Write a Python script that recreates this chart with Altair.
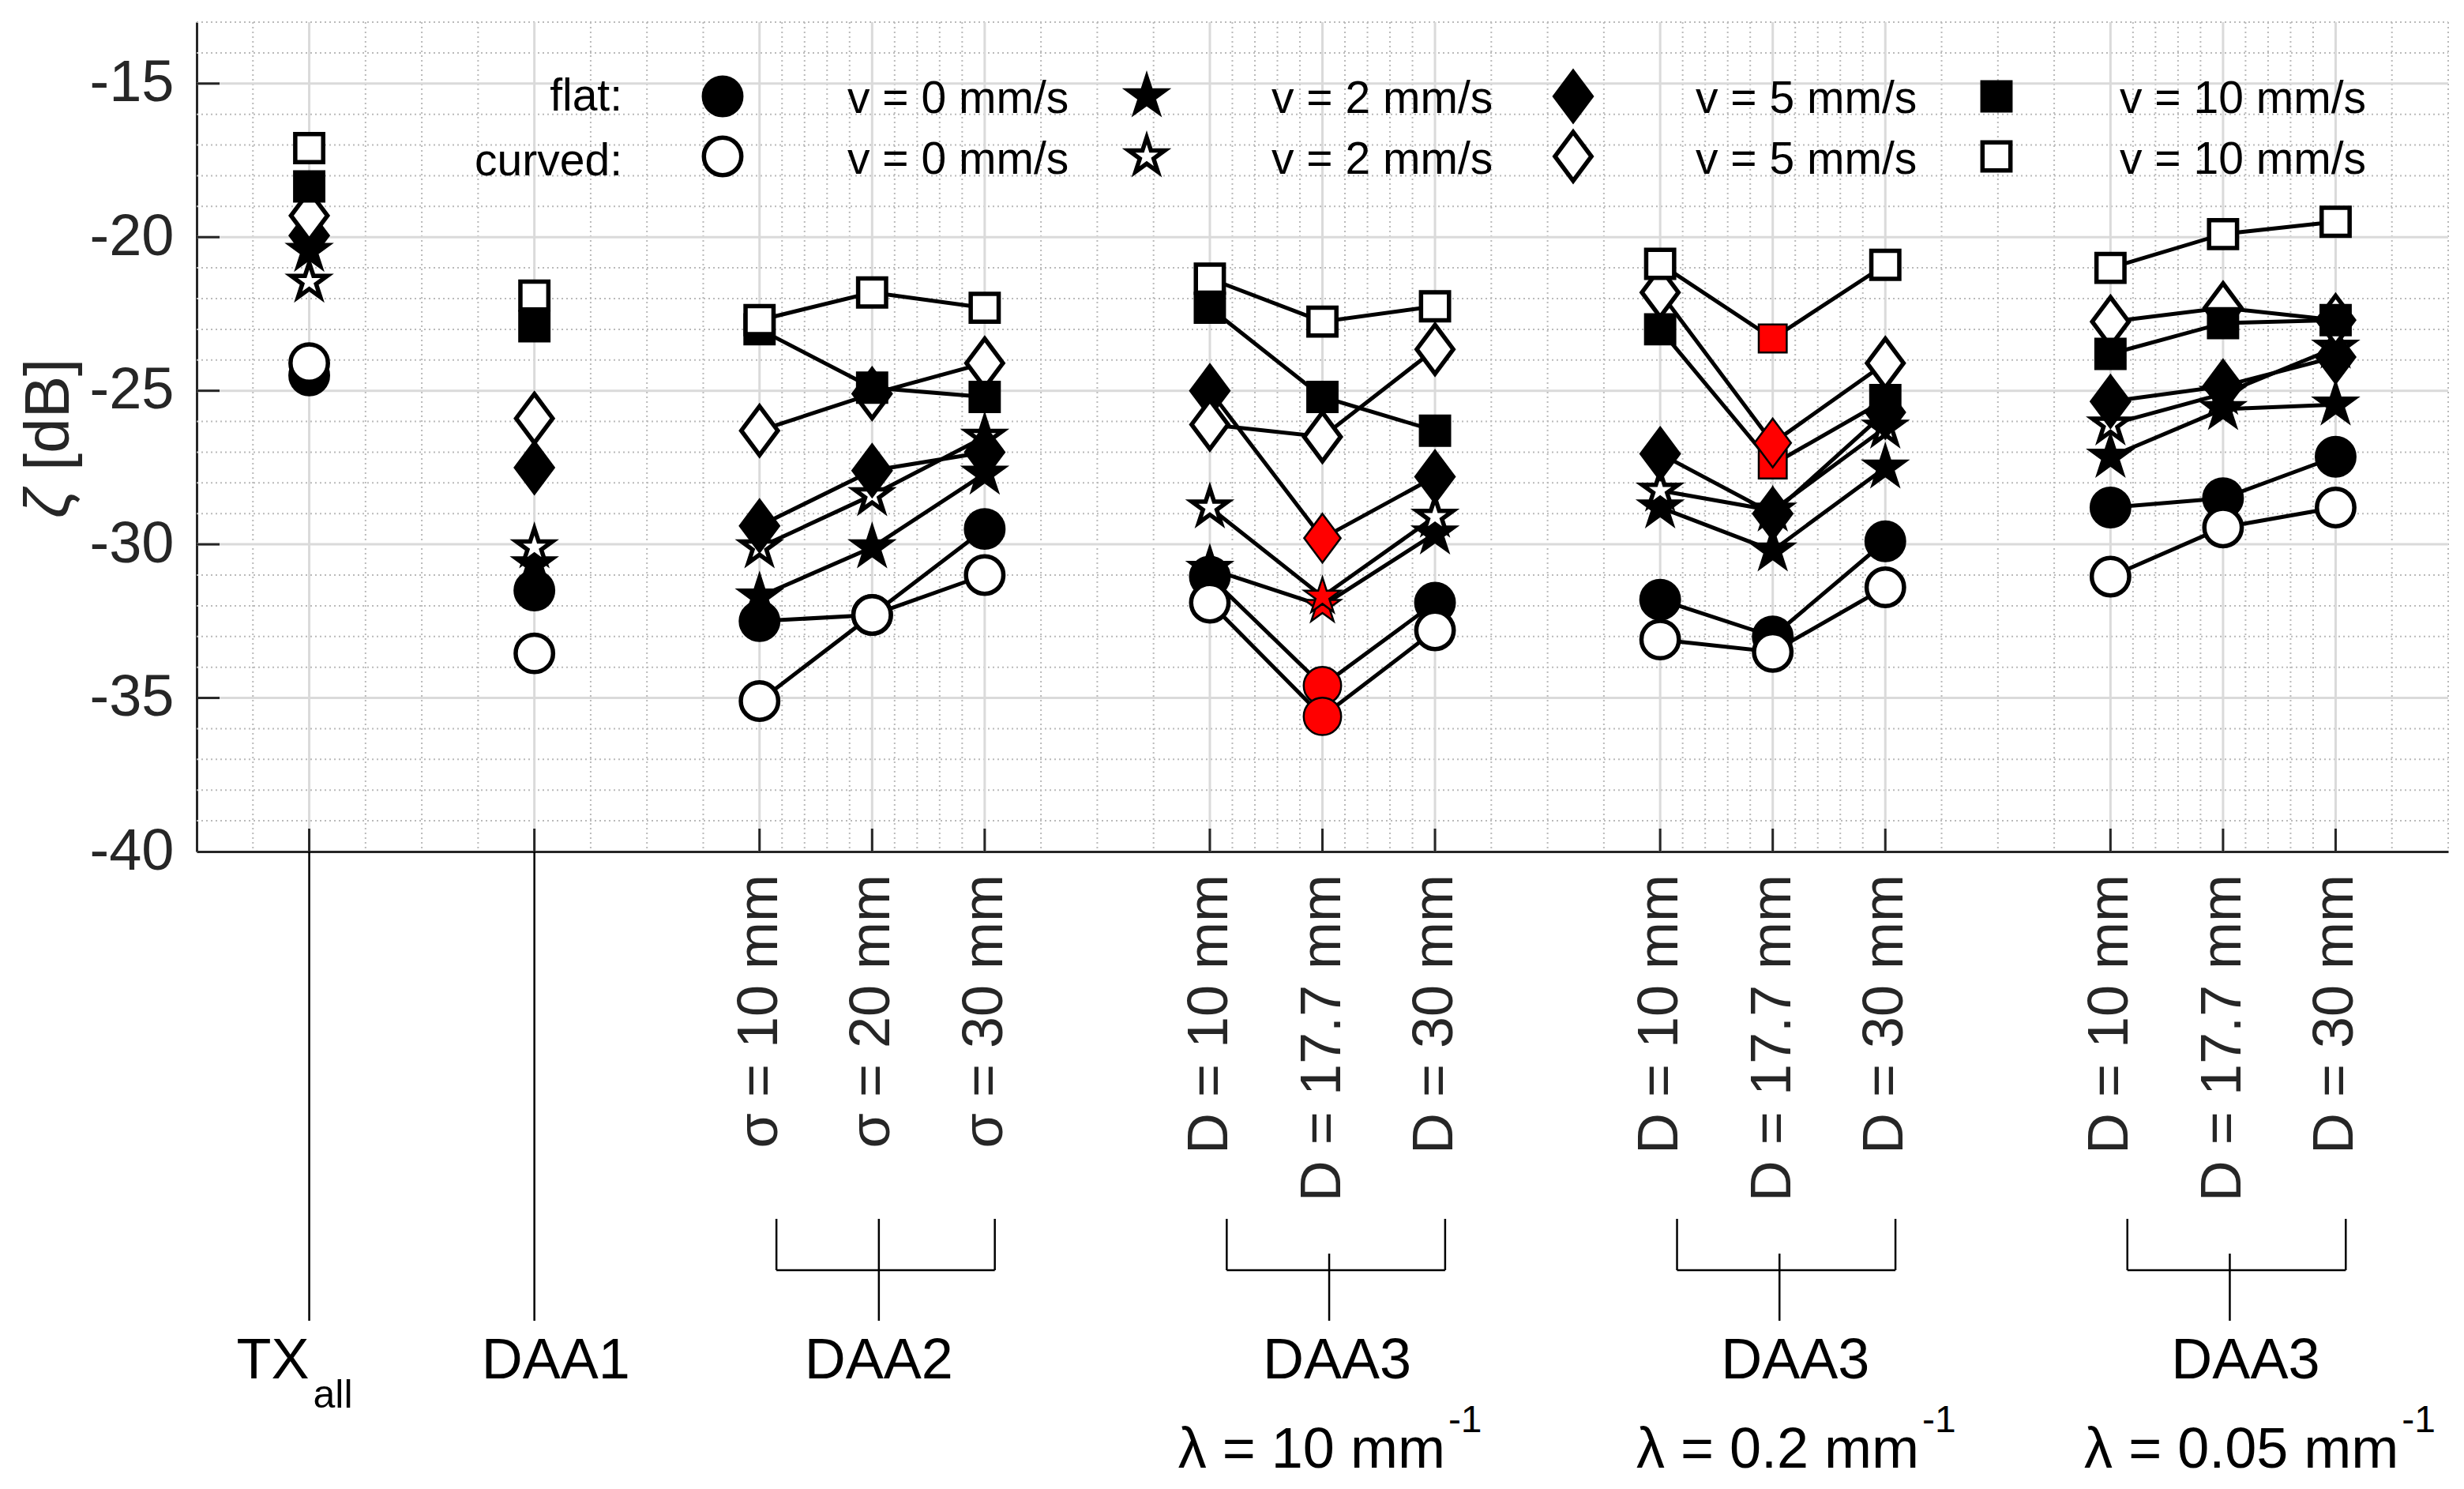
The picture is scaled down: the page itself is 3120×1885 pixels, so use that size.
import math
import altair as alt
import pandas as pd

# ---------------- data ----------------
positions = [1, 3, 5, 6, 7, 9, 10, 11, 13, 14, 15, 17, 18, 19]
group_of = ["TX", "DAA1", "DAA2", "DAA2", "DAA2", "DAA3a", "DAA3a", "DAA3a",
            "DAA3b", "DAA3b", "DAA3b", "DAA3c", "DAA3c", "DAA3c"]

flat_v0 = [-24.5, -31.5, -32.5, -32.3, -29.5, -31.05, -34.6, -31.9, -31.8, -33.0, -29.9, -28.8, -28.5, -27.15]
curved_v0 = [-24.1, -33.55, -35.1, -32.3, -31.0, -31.9, -35.6, -32.8, -33.1, -33.5, -31.4, -31.05, -29.45, -28.8]
flat_v2 = [-20.45, -30.65, -31.7, -30.1, -27.7, -30.8, -32.0, -29.65, -28.8, -30.2, -27.5, -27.15, -25.6, -25.45]
curved_v2 = [-21.45, -30.1, -30.1, -28.4, -26.5, -28.8, -31.7, -29.1, -28.25, -28.9, -26.2, -26.1, -25.1, -23.6]
flat_v5 = [-19.95, -27.5, -29.4, -27.6, -27.0, -25.0, -29.8, -27.8, -27.05, -29.0, -25.7, -25.35, -24.85, -23.9]
curved_v5 = [-19.3, -25.9, -26.3, -25.1, -24.1, -26.1, -26.5, -23.65, -21.8, -26.7, -24.1, -22.75, -22.3, -22.7]
flat_v10 = [-18.35, -22.9, -23.0, -24.9, -25.2, -22.3, -25.2, -26.3, -23.0, -27.4, -25.3, -23.8, -22.8, -22.7]
curved_v10 = [-17.1, -21.9, -22.7, -21.8, -22.3, -21.35, -22.75, -22.25, -20.87, -23.3, -20.9, -21.0, -19.9, -19.5]

# highlighted (red) points: (surface, velocity, position)
highlighted = [("flat", "v0", 10), ("curved", "v0", 10), ("flat", "v2", 10), ("curved", "v2", 10),
               ("flat", "v5", 10), ("flat", "v10", 14), ("curved", "v10", 14), ("curved", "v5", 14)]

velocities = ["v0", "v2", "v5", "v10"]
velocity_labels = ["v = 0 mm/s", "v = 2 mm/s", "v = 5 mm/s", "v = 10 mm/s"]
surfaces = ["flat", "curved"]
surface_labels = ["flat:", "curved:"]

tick_labels = ["", "", "σ = 10 mm", "σ = 20 mm", "σ = 30 mm",
               "D = 10 mm", "D = 17.7 mm", "D = 30 mm",
               "D = 10 mm", "D = 17.7 mm", "D = 30 mm",
               "D = 10 mm", "D = 17.7 mm", "D = 30 mm"]
y_ticks = [-40, -35, -30, -25, -20, -15]

group_names = ["DAA1", "DAA2", "DAA3", "DAA3", "DAA3"]
lambda_labels = ["λ = 10 mm", "λ = 0.2 mm", "λ = 0.05 mm"]

series = [("flat", "v0", flat_v0), ("curved", "v0", curved_v0),
          ("flat", "v2", flat_v2), ("curved", "v2", curved_v2),
          ("flat", "v5", flat_v5), ("curved", "v5", curved_v5),
          ("flat", "v10", flat_v10), ("curved", "v10", curved_v10)]

# ---------------- layout ----------------
W, H = 2851, 1050
X0, X1 = 0, 20
Y0, Y1 = -40, -13
FONT = "Liberation Sans"
AX = "#262626"

def px2x(p):
    return X0 + p / W * (X1 - X0)

def py2y(p):
    return Y1 - p / H * (Y1 - Y0)

xs = alt.Scale(domain=[X0, X1], nice=False, zero=False)
ys = alt.Scale(domain=[Y0, Y1], nice=False, zero=False)
x_axis = alt.Axis(labels=False, ticks=False, tickSize=0, grid=False, title=None,
                  domainColor=AX, domainWidth=3)
y_axis = alt.Axis(values=y_ticks, labelExpr="'' + datum.value", labelFont=FONT,
                  labelFontSize=74, labelColor=AX, labelPadding=29, ticks=False,
                  tickSize=0, grid=False, title=None, domainColor=AX, domainWidth=3)

def X(f):
    return alt.X(f, type="quantitative", scale=xs, axis=x_axis)

def Y(f):
    return alt.Y(f, type="quantitative", scale=ys, axis=y_axis)

# marker shapes (unit square scaled by sqrt(size)/2 = 30 px)
SIZE = 3600
def star_path(R):
    r = R * 0.381966
    pts = []
    for k in range(10):
        ang = math.radians(-90 + 36 * k)
        rad = R if k % 2 == 0 else r
        pts.append((rad * math.cos(ang), rad * math.sin(ang)))
    return "M" + "L".join(f"{a:.4f},{b:.4f}" for a, b in pts) + "Z"

cr = 0.79
circle_path = f"M{cr},0A{cr},{cr},0,1,1,-{cr},0A{cr},{cr},0,1,1,{cr},0Z"
sq = 0.59
square_path = f"M-{sq},-{sq}L{sq},-{sq}L{sq},{sq}L-{sq},{sq}Z"
dw, dh = 0.77, 1.03
diamond_path = f"M0,-{dh}L{dw},0L0,{dh}L-{dw},0Z"
shape_range = [circle_path, star_path(0.8), diamond_path, square_path]

# ---------------- tables ----------------
rows = []
hl_order = {"v0": 0, "v2": 1, "v10": 2, "v5": 3}
for si, (surf, vel, vals) in enumerate(series):
    for j, (p, v) in enumerate(zip(positions, vals)):
        hl = (surf, vel, p) in highlighted
        z = si * 100 + j
        if hl:
            z = 10000 + hl_order[vel] * 10 + surfaces.index(surf)
        rows.append(dict(x=p, y=v, surface=surf, vel=vel, group=group_of[j],
                         line_id=f"{surf}-{vel}-{group_of[j]}", hl=hl, z=z))
df = pd.DataFrame(rows)
df_lines = df[df["group"].str.startswith("DAA") & (df["group"] != "DAA1")]

fill_enc = alt.condition("datum.hl", alt.value("red"),
                         alt.Fill("surface:N", scale=alt.Scale(domain=surfaces, range=["black", "white"]), legend=None))
shape_enc = alt.Shape("vel:N", scale=alt.Scale(domain=velocities, range=shape_range), legend=None)
sw_enc = alt.condition("datum.hl", alt.value(2.5), alt.value(5.5))

# grids
minor_x = []
bracket_starts = [5, 9, 13, 17]
for k in range(1, 41):
    v = k * 0.5
    if any(a < v < a + 2 for a in bracket_starts) or v in positions:
        continue
    minor_x.append(v)
for a in bracket_starts:
    for j in range(1, 10):
        v = round(a + 0.2 * j, 2)
        if abs(v - round(v)) < 1e-9:
            continue
        minor_x.append(v)
minor_y = [v for v in range(-39, -12) if v % 5 != 0]
major_y = [-35, -30, -25, -20, -15]

MINOR = "#bababa"
minor_xg = alt.Chart(pd.DataFrame({"x": minor_x})).mark_rule(
    color=MINOR, strokeWidth=2, strokeDash=[2, 4]).encode(x=X("x"), y=alt.value(0), y2=alt.value(H))
minor_yg = alt.Chart(pd.DataFrame({"y": minor_y})).mark_rule(
    color=MINOR, strokeWidth=2, strokeDash=[2, 4]).encode(y=Y("y"), x=alt.value(0), x2=alt.value(W))
major_xg = alt.Chart(pd.DataFrame({"x": positions})).mark_rule(
    color="#dadada", strokeWidth=3).encode(x=X("x"), y=alt.value(0), y2=alt.value(H))
major_yg = alt.Chart(pd.DataFrame({"y": major_y})).mark_rule(
    color="#dadada", strokeWidth=3).encode(y=Y("y"), x=alt.value(0), x2=alt.value(W))

TICK = 29
x_ticks = alt.Chart(pd.DataFrame({"x": positions})).mark_rule(color=AX, strokeWidth=3).encode(
    x=X("x"), y=alt.value(H), y2=alt.value(H - TICK))
y_tk = alt.Chart(pd.DataFrame({"y": y_ticks[1:]})).mark_rule(color=AX, strokeWidth=3).encode(
    y=Y("y"), x=alt.value(0), x2=alt.value(TICK))

lines = alt.Chart(df_lines).mark_line(color="black", strokeWidth=5).encode(
    x=X("x"), y=Y("y"), detail="line_id:N", order=alt.Order("x:Q"))

points = alt.Chart(df).mark_point(filled=True, stroke="black", size=SIZE, opacity=1).encode(
    x=X("x"), y=Y("y"), shape=shape_enc, fill=fill_enc, strokeWidth=sw_enc, order=alt.Order("z:Q"))

# legend (inside the plot, top)
leg_sym_px = [666, 1203, 1743, 2279]
leg_txt_px = [824, 1361, 1898, 2435]
leg_row_py = [94, 170]
leg_base_py = [115, 192]
leg_rows = []
for r, surf in enumerate(surfaces):
    for c, vel in enumerate(velocities):
        leg_rows.append(dict(x=px2x(leg_sym_px[c]), y=py2y(leg_row_py[r]), surface=surf, vel=vel,
                             hl=False, z=r * 10 + c))
df_leg = pd.DataFrame(leg_rows)
leg_points = alt.Chart(df_leg).mark_point(filled=True, stroke="black", size=SIZE, opacity=1).encode(
    x=X("x"), y=Y("y"), shape=shape_enc, fill=fill_enc, strokeWidth=sw_enc, order=alt.Order("z:Q"))
leg_txt_rows = []
for r in range(2):
    for c in range(4):
        leg_txt_rows.append(dict(x=px2x(leg_txt_px[c]), y=py2y(leg_base_py[r]), t=velocity_labels[c]))
leg_text = alt.Chart(pd.DataFrame(leg_txt_rows)).mark_text(
    align="left", baseline="alphabetic", font=FONT, fontSize=57, color="black").encode(
    x=X("x"), y=Y("y"), text="t:N")
leg_head = alt.Chart(pd.DataFrame({"x": [px2x(539)] * 2, "y": [py2y(112), py2y(194)],
                                   "t": surface_labels})).mark_text(
    align="right", baseline="alphabetic", font=FONT, fontSize=57, color="black").encode(
    x=X("x"), y=Y("y"), text="t:N")

# y title: italic zeta + [dB], reading upward
y_zeta = alt.Chart(pd.DataFrame({"t": ["ζ"]})).mark_text(
    angle=270, align="left", baseline="middle", font=FONT, fontSize=80, fontStyle="italic", color=AX).encode(
    x=alt.value(-186), y=alt.value(628), text="t:N")
y_db = alt.Chart(pd.DataFrame({"t": ["[dB]"]})).mark_text(
    angle=270, align="left", baseline="middle", font=FONT, fontSize=80, color=AX).encode(
    x=alt.value(-186), y=alt.value(568), text="t:N")

# rotated tick labels
df_tl = pd.DataFrame({"x": positions[2:], "t": tick_labels[2:]})
tick_text = alt.Chart(df_tl).mark_text(
    angle=270, align="right", baseline="middle", font=FONT, fontSize=72, color=AX).encode(
    x=X("x"), y=alt.value(H + 29), text="t:N")

# bracket annotations below axis
B_TOP, B_MID, B_BOT = 1515, 1580, 1644
long_lines = alt.Chart(pd.DataFrame({"x": [1, 3]})).mark_rule(color="black", strokeWidth=2.5).encode(
    x=X("x"), y=alt.value(H), y2=alt.value(B_BOT))
br_side = alt.Chart(pd.DataFrame({"x": [a + 0.15 for a in bracket_starts] + [a + 2.09 for a in bracket_starts]})).mark_rule(
    color="black", strokeWidth=2.5).encode(x=X("x"), y=alt.value(B_TOP), y2=alt.value(B_MID))
br_h = alt.Chart(pd.DataFrame({"x": [a + 0.15 for a in bracket_starts],
                               "x2": [a + 2.09 for a in bracket_starts]})).mark_rule(
    color="black", strokeWidth=2.5).encode(x=X("x"), x2="x2:Q", y=alt.value(B_MID))
br_c = alt.Chart(pd.DataFrame({"x": [a + 1.06 for a in bracket_starts],
                               "top": [B_TOP, 1559, 1559, 1559]})).mark_rule(
    color="black", strokeWidth=2.5).encode(x=X("x"), y=alt.Y("top:Q", scale=None), y2=alt.value(B_BOT))

# group labels
tx_main = alt.Chart(pd.DataFrame({"x": [1], "t": ["TX"]})).mark_text(
    align="right", baseline="alphabetic", font=FONT, fontSize=72, color="black").encode(
    x=X("x"), y=alt.value(1717), text="t:N")
tx_sub = alt.Chart(pd.DataFrame({"x": [1], "t": ["all"]})).mark_text(
    align="left", baseline="alphabetic", font=FONT, fontSize=50, color="black", dx=5).encode(
    x=X("x"), y=alt.value(1754), text="t:N")
grp = alt.Chart(pd.DataFrame({"x": [3.19, 6.06, 10.13, 14.2, 18.2], "t": group_names})).mark_text(
    align="center", baseline="alphabetic", font=FONT, fontSize=72, color="black").encode(
    x=X("x"), y=alt.value(1717), text="t:N")
lam_anchor = [11.09, 15.30, 19.56]
lam_main = alt.Chart(pd.DataFrame({"x": lam_anchor, "t": lambda_labels})).mark_text(
    align="right", baseline="alphabetic", font=FONT, fontSize=72, color="black").encode(
    x=X("x"), y=alt.value(1830), text="t:N")
lam_sup = alt.Chart(pd.DataFrame({"x": lam_anchor, "t": ["-1"] * 3})).mark_text(
    align="left", baseline="alphabetic", font=FONT, fontSize=48, color="black", dx=4).encode(
    x=X("x"), y=alt.value(1785), text="t:N")

chart = alt.layer(
    minor_xg, minor_yg, major_xg, major_yg, x_ticks, y_tk, lines, points,
    leg_points, leg_text, leg_head, y_zeta, y_db, tick_text, long_lines, br_side, br_h, br_c,
    tx_main, tx_sub, grp, lam_main, lam_sup
).properties(
    width=W, height=H,
    padding={"left": 241, "top": 20, "right": 10, "bottom": 800},
    autosize=alt.AutoSizeParams(type="none"),
    background="white",
).configure_view(stroke=None)

chart.save("out.html", embed_options={"renderer": "svg", "actions": False})
